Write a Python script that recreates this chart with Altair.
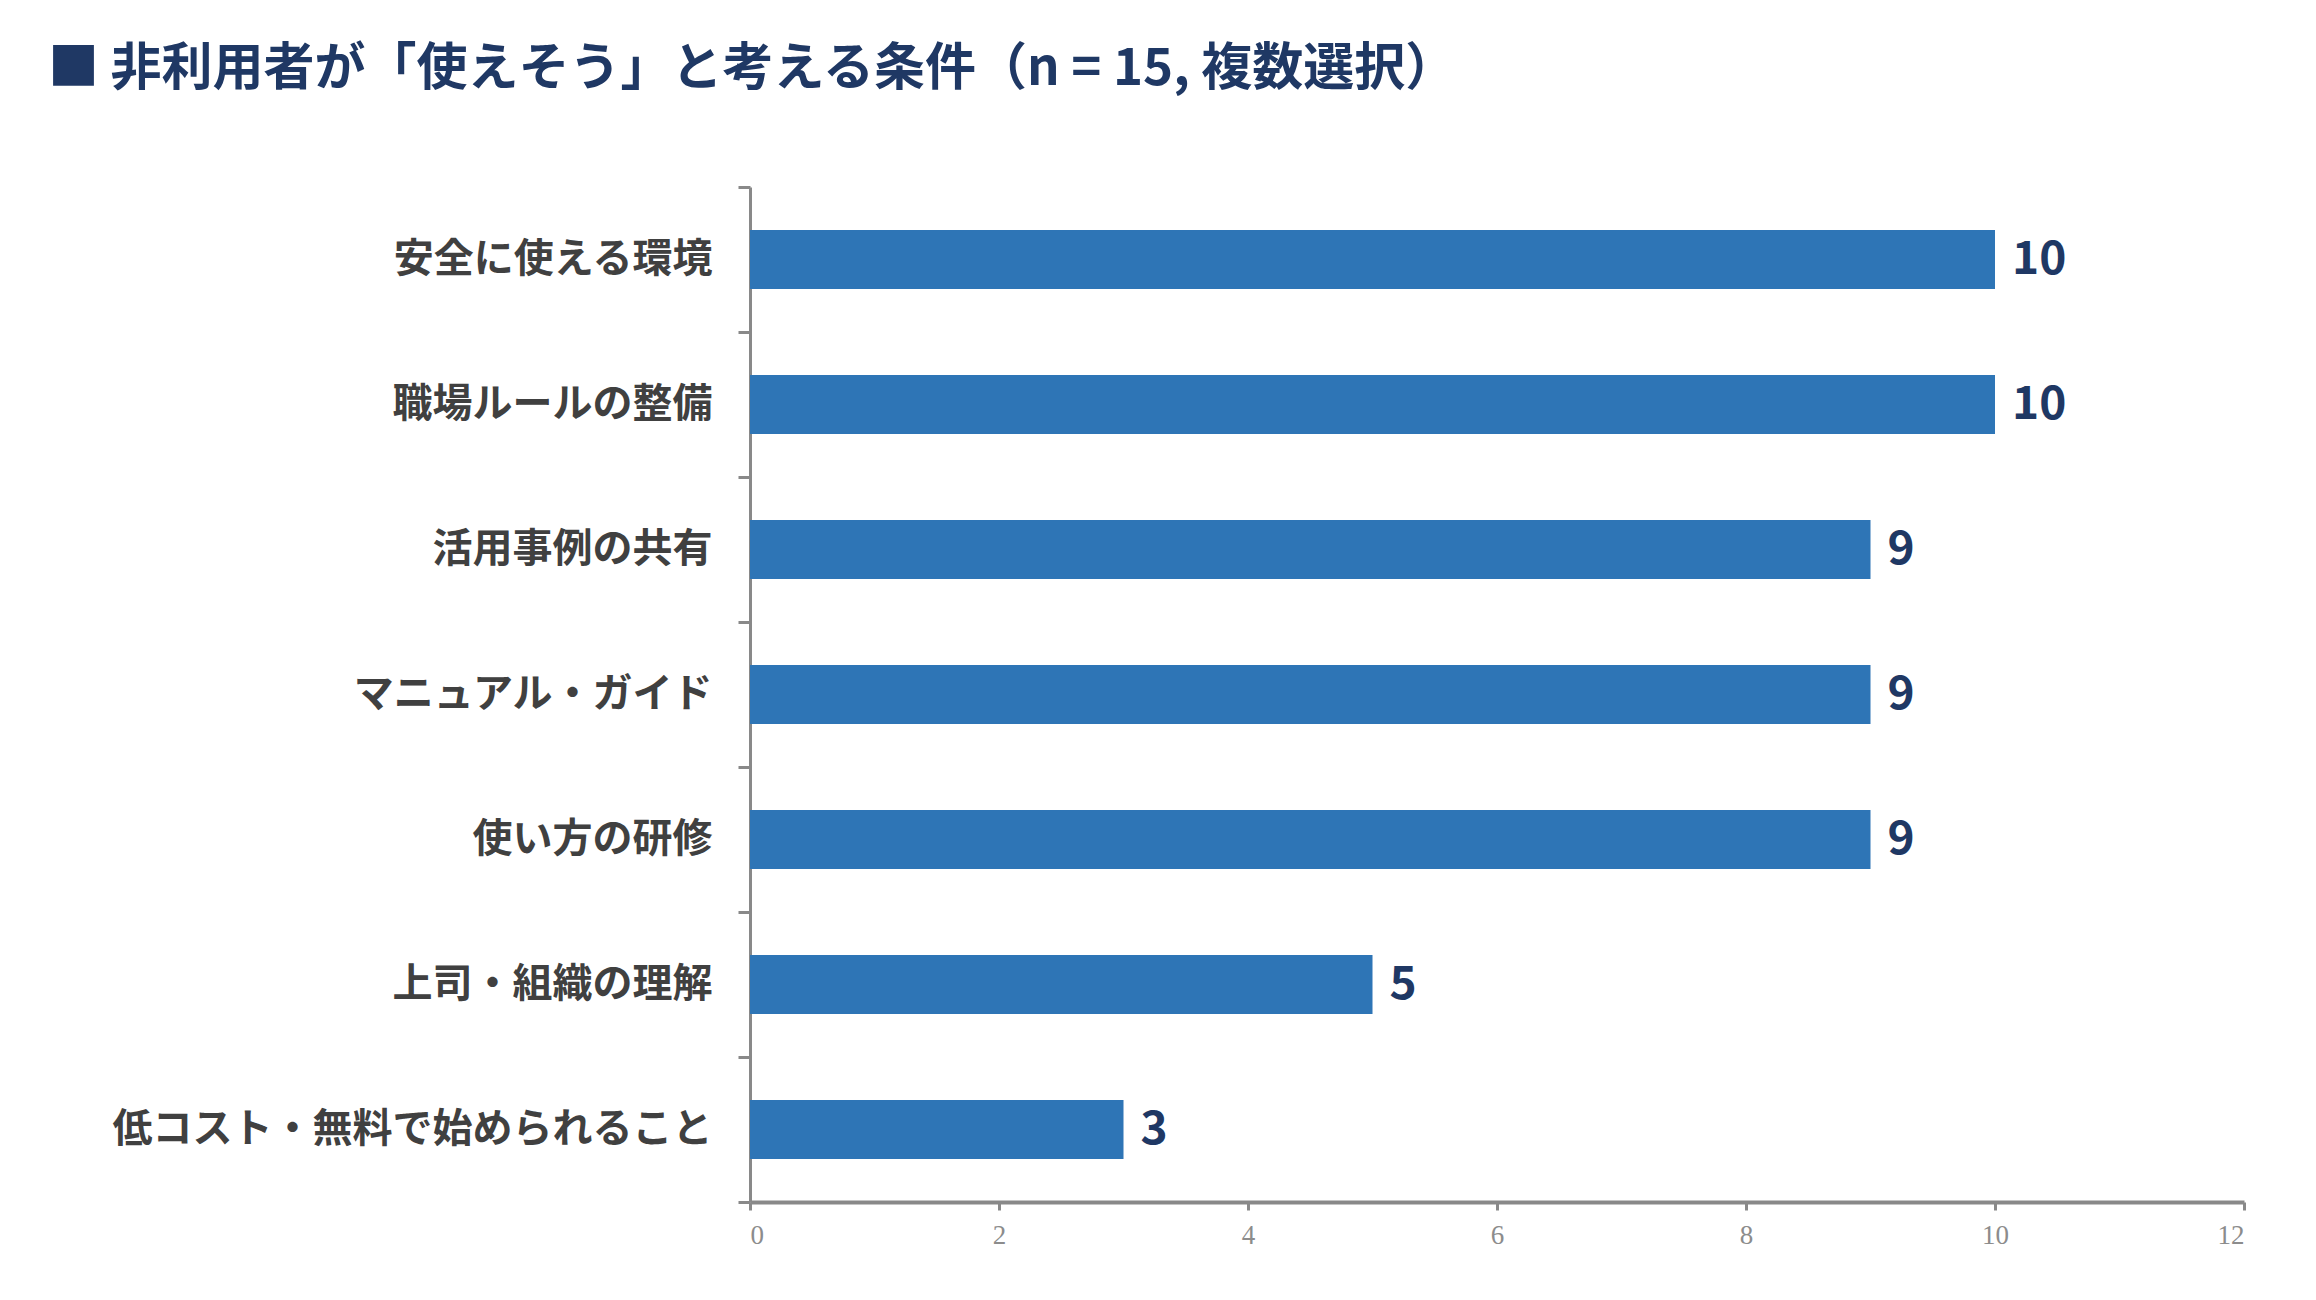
import altair as alt
import pandas as pd

categories = [
    "安全に使える環境",
    "職場ルールの整備",
    "活用事例の共有",
    "マニュアル・ガイド",
    "使い方の研修",
    "上司・組織の理解",
    "低コスト・無料で始められること",
]
counts = [10, 10, 9, 9, 9, 5, 3]
x_ticks = [0, 2, 4, 6, 8, 10, 12]
title_text = "■ 非利用者が「使えそう」と考える条件（n = 15, 複数選択）"

df = pd.DataFrame({"cat": categories, "n": counts})

JP = "Noto Sans CJK JP"

y_enc = alt.Y(
    "cat:N",
    sort=categories,
    title=None,
    scale=alt.Scale(paddingInner=0, paddingOuter=0),
    axis=alt.Axis(
        labelFont=JP,
        labelFontSize=40,
        labelFontWeight="bold",
        labelColor="#404040",
        labelPadding=26,
        tickBand="extent",
        tickSize=12,
        tickWidth=3,
        tickColor="#898989",
        domainColor="#898989",
        domainWidth=3,
        labelLimit=1000,
        grid=False,
    ),
)

x_enc = alt.X(
    "n:Q",
    title=None,
    scale=alt.Scale(domain=[0, 12]),
    axis=alt.Axis(
        values=x_ticks,
        format="d",
        grid=False,
        labelFont="Liberation Serif",
        labelFontSize=27,
        labelColor="#8c8c8c",
        labelPadding=12,
        tickSize=8,
        tickWidth=3,
        tickColor="#898989",
        domainColor="#898989",
        domainWidth=4,
    ),
)

bars = alt.Chart(df).mark_bar(color="#2e75b6", height={"band": 0.407}).encode(y=y_enc, x=x_enc)

labels = alt.Chart(df).mark_text(
    align="left",
    baseline="middle",
    dx=17,
    font=JP,
    fontSize=46,
    fontWeight="bold",
    color="#1f3864",
).encode(y=alt.Y("cat:N", sort=categories), x="n:Q", text="n:Q")

chart = (
    alt.layer(bars, labels)
    .properties(
        width=1494,
        height=1015,
        autosize=alt.AutoSizeParams(type="none"),
        padding={"left": 742, "top": 179, "right": 60, "bottom": 80},
        view=alt.ViewBackground(strokeWidth=0, stroke="transparent"),
        title=alt.TitleParams(
            text=title_text,
            anchor="start",
            frame="group",
            font=JP,
            fontSize=51,
            fontWeight="bold",
            color="#1f3864",
            dx=-702,
            offset=71,
        ),
    )
    .configure_view(strokeWidth=0, stroke="transparent")
    .configure_axis(grid=False)
    .configure(background="white")
)

chart.save("out.html", embed_options={"renderer": "svg", "actions": False})
